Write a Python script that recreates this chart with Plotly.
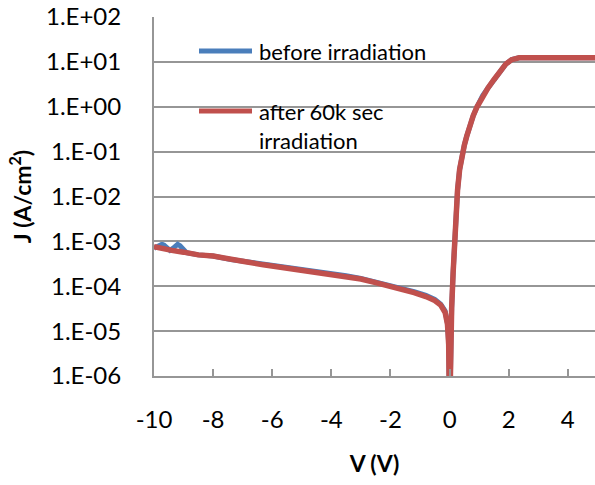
import plotly.graph_objects as go

# Data (V in volts, J in A/cm^2)
v_after = [-10, -9.7, -9.4, -9.0, -8.5, -8.0, -7.4, -7.0, -6.3, -6.0, -5.2, -4.4, -4.0,
           -3.5, -3.0, -2.5, -2.0, -1.6, -1.2, -0.8, -0.5, -0.3, -0.15, -0.07, -0.03,
           0.0, 0.03, 0.07, 0.12, 0.17, 0.22, 0.27, 0.34, 0.41, 0.5, 0.58, 0.68, 0.8,
           0.93, 1.12, 1.3, 1.5, 1.7, 1.9, 2.1, 2.35, 3.0, 4.0, 5.0]
j_after = [7.6e-4, 6.8e-4, 6.3e-4, 5.75e-4, 5.0e-4, 4.7e-4, 3.9e-4, 3.6e-4, 3.0e-4, 2.8e-4,
           2.35e-4, 2.05e-4, 1.9e-4, 1.66e-4, 1.45e-4, 1.2e-4, 1.0e-4, 8.5e-5, 7.2e-5,
           5.9e-5, 4.8e-5, 3.8e-5, 2.6e-5, 1.4e-5, 5.0e-6,
           1.0e-7, 6.3e-6, 3.2e-5, 2.0e-4, 1.1e-3, 5.0e-3, 1.4e-2, 4.0e-2, 7.6e-2,
           0.14, 0.22, 0.38, 0.63, 1.0, 1.78, 2.63, 4.0, 6.0, 8.9, 11.2, 12.3, 12.3,
           12.3, 12.3]

v_before = [-10, -9.85, -9.78, -9.73, -9.66, -9.56, -9.46, -9.36, -9.27, -9.2, -9.12,
            -9.02, -8.9, -8.5, -8.0, -7.4, -7.0, -6.3, -6.0, -5.2, -4.4, -4.0, -3.5,
            -3.0, -2.5, -2.0, -1.6, -1.2, -0.8, -0.5, -0.3, -0.15, -0.07, -0.03, 0.0,
            0.03, 0.07, 0.12, 0.17, 0.22, 0.27, 0.34, 0.41, 0.5, 0.58, 0.68, 0.8, 0.93,
            1.12, 1.3, 1.5, 1.7, 1.9, 2.1, 2.35, 3.0, 4.0, 5.0]
j_before = [7.0e-4, 7.6e-4, 8.4e-4, 8.6e-4, 8.2e-4, 7.0e-4, 6.3e-4, 7.0e-4, 8.2e-4,
            8.6e-4, 8.0e-4, 6.6e-4, 5.6e-4, 5.0e-4, 4.7e-4, 3.95e-4, 3.65e-4, 3.05e-4,
            2.85e-4, 2.4e-4, 2.1e-4, 1.95e-4, 1.72e-4, 1.5e-4, 1.25e-4, 1.05e-4,
            9.0e-5, 7.6e-5, 6.3e-5, 5.1e-5, 4.0e-5, 2.8e-5, 1.5e-5, 5.3e-6, 1.0e-7,
            6.3e-6, 3.2e-5, 2.0e-4, 1.1e-3, 5.0e-3, 1.4e-2, 4.0e-2, 7.6e-2, 0.14, 0.22,
            0.38, 0.63, 1.0, 1.78, 2.63, 4.0, 6.0, 8.9, 11.2, 12.3, 12.3, 12.3, 12.3]

y_tickvals = [1e-6, 1e-5, 1e-4, 1e-3, 1e-2, 1e-1, 1e0, 1e1, 1e2]
y_ticktext = ["1.E-06", "1.E-05", "1.E-04", "1.E-03", "1.E-02", "1.E-01",
              "1.E+00", "1.E+01", "1.E+02"]
x_tickvals = [-10, -8, -6, -4, -2, 0, 2, 4]
x_ticktext = ["-10", "-8", "-6", "-4", "-2", "0", "2", "4"]

series_names = ["before irradiation", "after 60k sec", "irradiation"]

BLUE = "#4A7EBB"
RED = "#C0504D"
GRID = "#969696"
FONT = "Lato"

fig = go.Figure()
fig.add_trace(go.Scatter(x=v_before, y=j_before, mode="lines",
                         line=dict(color=BLUE, width=5), showlegend=False))
fig.add_trace(go.Scatter(x=v_after, y=j_after, mode="lines",
                         line=dict(color=RED, width=5.5), showlegend=False))

W, H = 595, 485
L, R, T, B = 154, 0, 17, 109
pw, ph = W - L - R, H - T - B


def px(x):
    return (x - L) / pw


def py(y):
    return (H - B - y) / ph


# manual legend (white box covering gridlines, sample lines, labels)
fig.add_shape(type="rect", xref="paper", yref="paper", layer="between",
              x0=px(163), x1=px(462), y0=py(172), y1=py(20),
              fillcolor="white", line=dict(width=0))
fig.add_shape(type="line", xref="paper", yref="paper", layer="above",
              x0=px(199), x1=px(252), y0=py(51), y1=py(51),
              line=dict(color=BLUE, width=5))
fig.add_shape(type="line", xref="paper", yref="paper", layer="above",
              x0=px(199), x1=px(252), y0=py(111), y1=py(111),
              line=dict(color=RED, width=5))
for txt, yy in [(series_names[0], 51), (series_names[1], 111), (series_names[2], 140)]:
    fig.add_annotation(text=txt, xref="paper", yref="paper", x=px(257), y=py(yy),
                       xanchor="left", yanchor="middle", showarrow=False,
                       font=dict(family=FONT, size=22, color="black"))

fig.update_layout(
    width=W, height=H,
    margin=dict(l=L, r=R, t=T, b=B, pad=0),
    paper_bgcolor="white", plot_bgcolor="white",
    font=dict(family=FONT, size=24, color="black"),
    showlegend=False,
)
fig.update_xaxes(range=[-10, 4.92], tickvals=x_tickvals, ticktext=x_ticktext,
                 showgrid=False, zeroline=False, showline=True, linecolor=GRID,
                 linewidth=2, ticks="inside", ticklen=7, tickwidth=2, tickcolor=GRID,
                 ticklabelstandoff=21, tickfont=dict(size=24),
                 title=dict(text="<b>V (V)</b>", font=dict(size=23), standoff=24))
fig.update_yaxes(type="log", range=[-6, 2], tickvals=y_tickvals, ticktext=y_ticktext,
                 showgrid=True, gridcolor=GRID, gridwidth=2, zeroline=False,
                 showline=True, linecolor=GRID, linewidth=2, ticks="inside",
                 ticklen=9, tickwidth=2, tickcolor=GRID, ticklabelstandoff=26,
                 tickfont=dict(size=24),
                 title=dict(text="<b>J (A/cm<sup>2</sup>)</b>", font=dict(size=23),
                            standoff=8))

fig.write_html("out.html", config={"displayModeBar": False},
               post_script="document.body.style.margin='0px';")
